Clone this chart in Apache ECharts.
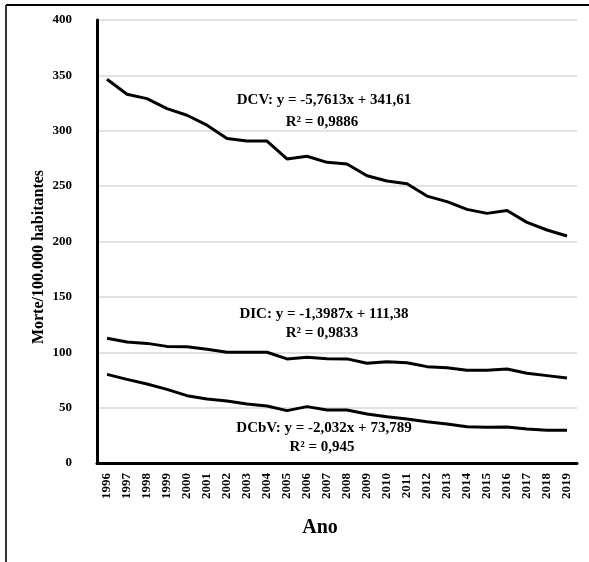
<!DOCTYPE html>
<html>
<head>
<meta charset="utf-8">
<script src="https://cdn.jsdelivr.net/npm/echarts@6/dist/echarts.min.js"></script>
<style>html,body{margin:0;padding:0;background:#fff}#c{width:589px;height:562px}</style>
</head>
<body>
<div id="c"></div>
<script>
var years = ['1996','1997','1998','1999','2000','2001','2002','2003','2004','2005','2006','2007','2008','2009','2010','2011','2012','2013','2014','2015','2016','2017','2018','2019'];
var dcv = [346.5,333,329,320,314,305,293,290.7,290.7,274.5,277,271.5,270,259.4,254.6,252.2,241,236,229,225.4,228,217.3,210.4,205];
var dic = [112.6,109.3,108,105.3,105,102.7,100,100,100,94,95.4,94.2,94,90,91.5,90.6,87,86,83.7,83.7,84.9,81,78.9,76.7];
var dcbv = [80,75.5,71.3,66.5,60.8,57.8,56,53.3,51.5,47.3,50.9,47.9,47.9,44.2,41.8,39.7,37.3,35.2,32.8,32.2,32.5,30.7,29.5,29.5];
var yTicks = [0,50,100,150,200,250,300,350,400];
var annotations = [
  ['DCV: y = -5,7613x + 341,61', 'R² = 0,9886'],
  ['DIC: y = -1,3987x + 111,38', 'R² = 0,9833'],
  ['DCbV: y = -2,032x + 73,789', 'R² = 0,945']
];

var F = '"Liberation Serif","Times New Roman",serif';
var chart = echarts.init(document.getElementById('c'));
function ln(data){
  return {type:'line', data:data, symbol:'none', smooth:false,
    lineStyle:{color:'#000', width:3}, itemStyle:{color:'#000'}};
}
var annY = [[100,122],[314,333],[428,447]];
var graphics = [
  {type:'line', shape:{x1:6,y1:5,x2:589,y2:5}, style:{stroke:'#000', lineWidth:2}},
  {type:'line', shape:{x1:6,y1:5,x2:6,y2:562}, style:{stroke:'#333', lineWidth:2}},
  {type:'text', x:320, y:528, style:{text:'Ano', font:'bold 20px '+F, fill:'#000', textAlign:'center', textVerticalAlign:'middle'}},
  {type:'text', x:39, y:257, rotation:Math.PI/2, style:{text:'Morte/100.000 habitantes', font:'bold 16px '+F, fill:'#000', textAlign:'center', textVerticalAlign:'middle'}}
];
annotations.forEach(function(a,i){
  graphics.push({type:'text', x:324, y:annY[i][0], style:{text:a[0], font:'bold 15px '+F, fill:'#000', textAlign:'center', textVerticalAlign:'middle'}});
  graphics.push({type:'text', x:322, y:annY[i][1], style:{text:a[1], font:'bold 15px '+F, fill:'#000', textAlign:'center', textVerticalAlign:'middle'}});
});
chart.setOption({
  animation:false,
  backgroundColor:'#fff',
  grid:{left:97, right:12, top:20, bottom:99, containLabel:false},
  xAxis:{type:'category', data:years, boundaryGap:true,
    axisLine:{lineStyle:{color:'#000', width:3}},
    axisTick:{show:false},
    axisLabel:{rotate:90, interval:0, margin:10, color:'#000', fontFamily:F, fontWeight:'bold', fontSize:13}},
  yAxis:{type:'value', min:yTicks[0], max:yTicks[yTicks.length-1], interval:50,
    axisLine:{show:true, lineStyle:{color:'#000', width:3}},
    axisTick:{show:false},
    splitLine:{lineStyle:{color:'#d9d9d9', width:1.5}},
    axisLabel:{margin:25, color:'#000', fontFamily:F, fontWeight:'bold', fontSize:13}},
  series:[ln(dcv), ln(dic), ln(dcbv)],
  graphic:graphics
});
</script>
</body>
</html>
